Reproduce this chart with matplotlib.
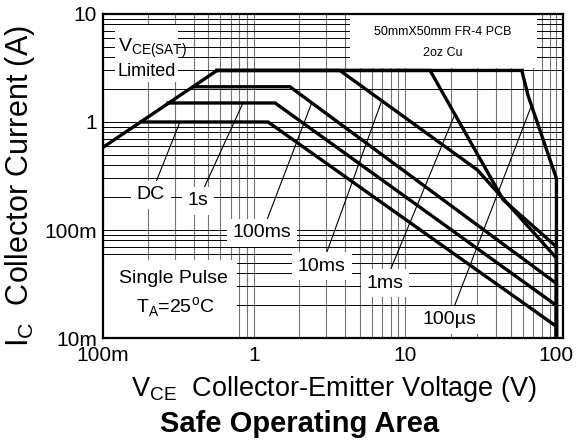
import matplotlib
matplotlib.use("Agg")
import matplotlib.pyplot as plt
from matplotlib.patches import Rectangle
import numpy as np

plt.rcParams['font.family'] = ['Liberation Sans', 'DejaVu Sans']
plt.rcParams['mathtext.fontset'] = 'custom'
plt.rcParams['mathtext.rm'] = 'Liberation Sans'

# V_CE(SAT) limit line (shared rising edge)
vsat_v = [0.1, 0.57]
vsat_i = [0.58, 3.0]

# SOA curves: collector-emitter voltage (V) / collector current (A)
dc_v = [0.18, 1.24, 100, 100]
dc_i = [1.0, 1.0, 0.0128, 0.01]
s1_v = [0.27, 1.38, 100, 100]
s1_i = [1.5, 1.5, 0.020, 0.01]
ms100_v = [0.40, 1.73, 100, 100]
ms100_i = [2.12, 2.12, 0.032, 0.01]
ms10_v = [0.57, 3.7, 30, 100, 100]
ms10_i = [3.0, 3.0, 0.36, 0.055, 0.01]
ms1_v = [0.57, 14.6, 44.5, 100, 100]
ms1_i = [3.0, 3.0, 0.19, 0.07, 0.01]
us100_v = [0.57, 59, 65, 100, 100]
us100_i = [3.0, 3.0, 1.75, 0.30, 0.01]

curve_names = ['DC', '1s', '100ms', '10ms', '1ms', '100\u00b5s']
curves = [(dc_v, dc_i), (s1_v, s1_i), (ms100_v, ms100_i),
          (ms10_v, ms10_i), (ms1_v, ms1_i), (us100_v, us100_i)]
# where each pointer touches its curve (V) and where the label sits (V, A)
pointer_v = [0.324, 0.846, 2.41, 7.0, 21.3, 68.4]
label_v = [0.208, 0.427, 1.13, 2.81, 7.35, 19.5]
label_i = [0.211, 0.186, 0.094, 0.0464, 0.0323, 0.0147]

xticks = [0.1, 1, 10, 100]
xticklabels = ['100m', '1', '10', '100']
yticks = [0.01, 0.1, 1, 10]
yticklabels = ['10m', '100m', '1', '10']


def on_curve(v, cv, ci):
    lv = np.log10(cv[:-1])
    li = np.log10(ci[:-1])
    return 10 ** np.interp(np.log10(v), lv, li)


fig = plt.figure(figsize=(5.76, 4.4), dpi=100)
ax = fig.add_axes([0.1783, 0.2318, 0.7986, 0.7364])
ax.set_xscale('log')
ax.set_yscale('log')
ax.set_xlim(0.1, 110)
ax.set_ylim(0.01, 10)

ax.xaxis.grid(True, which='both', color='0.45', lw=0.8)
ax.yaxis.grid(True, which='both', color='k', lw=0.7)
ax.set_xticks(xticks)
ax.set_xticklabels(xticklabels)
ax.set_yticks(yticks)
ax.set_yticklabels(yticklabels)
ax.tick_params(which='both', length=0, labelsize=15)
ax.tick_params(axis='x', pad=6)
ax.tick_params(axis='y', pad=4)
ax.xaxis.set_minor_formatter(plt.NullFormatter())
ax.yaxis.set_minor_formatter(plt.NullFormatter())
for sp in ax.spines.values():
    sp.set_linewidth(1.6)

# white boxes hiding the grid behind the notes
for (x0, y0, w, h) in [(0.0, 0.0, 0.292, 0.241), (0.027, 0.79, 0.137, 0.176),
                       (0.538, 0.833, 0.406, 0.167)]:
    ax.add_patch(Rectangle((x0, y0), w, h, transform=ax.transAxes,
                           fc='white', ec='none', zorder=2))

ax.plot(vsat_v, vsat_i, color='k', lw=2.4, zorder=3, solid_capstyle='butt')
for cv, ci in curves:
    ax.plot(cv, ci, color='k', lw=2.4, zorder=3, solid_joinstyle='miter')

for name, (cv, ci), pv, lx, ly in zip(curve_names, curves, pointer_v, label_v, label_i):
    ax.annotate(name, xy=(pv, on_curve(pv, cv, ci)), xytext=(lx, ly),
                ha='center', va='center', fontsize=14, zorder=5,
                bbox=dict(boxstyle='square,pad=0.3', fc='white', ec='none'),
                arrowprops=dict(arrowstyle='-', lw=0.8, color='k',
                                shrinkA=0, shrinkB=0))

ax.text(0.033, 0.895, r'$\mathrm{V_{CE(SAT)}}$', transform=ax.transAxes,
        fontsize=14, ha='left', va='center', zorder=5)
ax.text(0.033, 0.821, 'Limited', transform=ax.transAxes,
        fontsize=13, ha='left', va='center', zorder=5)
ax.text(0.74, 0.943, '50mmX50mm FR-4 PCB', transform=ax.transAxes,
        fontsize=9, ha='center', va='center', zorder=5)
ax.text(0.74, 0.881, '2oz Cu', transform=ax.transAxes,
        fontsize=9, ha='center', va='center', zorder=5)
ax.text(0.153, 0.185, 'Single Pulse', transform=ax.transAxes,
        fontsize=14, ha='center', va='center', zorder=5)
ax.text(0.157, 0.095, r'T$_\mathrm{A}$=25$^\mathrm{o}$C', transform=ax.transAxes,
        fontsize=14, ha='center', va='center', zorder=5)

fig.text(20 / 576, 1 - 186 / 440, r'$\mathrm{I_C}$  Collector Current (A)',
         rotation=90, ha='center', va='center', fontsize=22)
fig.text(334 / 576, 1 - 389 / 440, r'$\mathrm{V_{CE}}$  Collector-Emitter Voltage (V)',
         ha='center', va='center', fontsize=19.5)
fig.text(300 / 576, 1 - 424 / 440, 'Safe Operating Area',
         ha='center', va='center', fontsize=21, fontweight='bold')

fig.savefig('out.png', dpi=100)
